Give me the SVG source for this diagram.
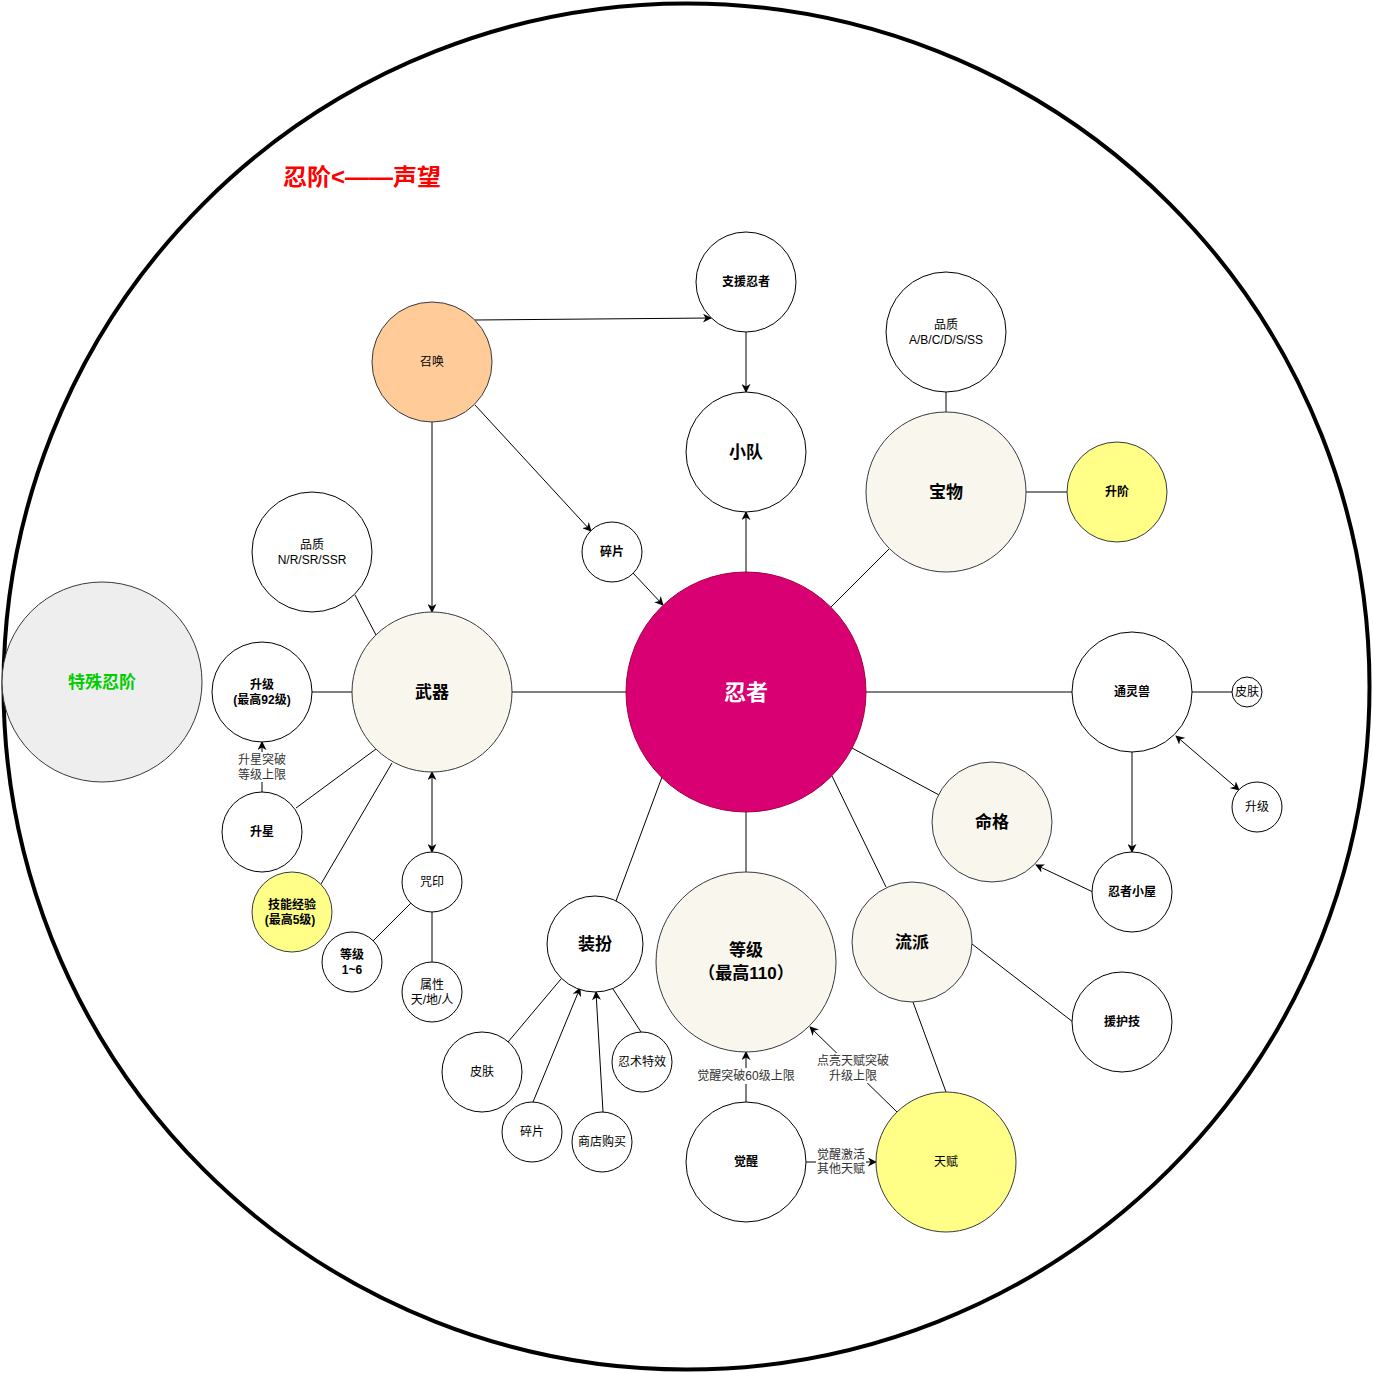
<svg xmlns="http://www.w3.org/2000/svg" width="1373" height="1373" viewBox="0 0 1373 1373">
<style>
text{font-family:"Liberation Sans","Noto Sans CJK SC",sans-serif;text-anchor:middle;dominant-baseline:central;fill:#000}
.n{stroke:#000;stroke-width:1;fill:#fff}
.c{fill:#f9f7ed;stroke:#36393d}
.y{fill:#ffff88;stroke:#36393d}
.s{font-size:12px}
.b{font-weight:bold}
.l{font-size:17px;font-weight:bold}
.e{stroke:#000;stroke-width:1;fill:none}
.lb{font-size:12px;fill:#333}
</style>
<defs>
<marker id="a" viewBox="0 0 10 10" refX="9" refY="5" markerWidth="9" markerHeight="9" markerUnits="userSpaceOnUse" orient="auto-start-reverse">
<path d="M0,0 L10,5 L0,10 L3,5 Z" fill="#000"/>
</marker>
</defs>
<circle cx="686.5" cy="686.5" r="683" fill="#fff" stroke="#000" stroke-width="4"/>
<text x="362" y="177" textLength="158" lengthAdjust="spacingAndGlyphs" style="font-size:23px;font-weight:bold;fill:#ff0000">忍阶&lt;——声望</text>
<g id="connectors">
<line class="e" x1="512" y1="692" x2="626" y2="692"/>
<line class="e" x1="866" y1="692" x2="1072" y2="692"/>
<line class="e" x1="1192" y1="692" x2="1232" y2="692"/>
<line class="e" x1="1176" y1="736" x2="1239" y2="790" marker-start="url(#a)" marker-end="url(#a)"/>
<line class="e" x1="1132" y1="752" x2="1132" y2="852" marker-end="url(#a)"/>
<line class="e" x1="1093" y1="892" x2="1036" y2="865" marker-end="url(#a)"/>
<line class="e" x1="852" y1="748" x2="939" y2="795"/>
<line class="e" x1="832" y1="776" x2="886" y2="887"/>
<line class="e" x1="972" y1="944" x2="1073" y2="1022"/>
<line class="e" x1="913" y1="1002" x2="946" y2="1092"/>
<line class="e" x1="897" y1="1112" x2="810" y2="1027" marker-end="url(#a)"/>
<line class="e" x1="746" y1="1102" x2="746" y2="1052" marker-end="url(#a)"/>
<line class="e" x1="806" y1="1162" x2="876" y2="1162" marker-end="url(#a)"/>
<line class="e" x1="746" y1="812" x2="746" y2="872"/>
<line class="e" x1="662" y1="777" x2="616" y2="901"/>
<line class="e" x1="561" y1="979" x2="508" y2="1042"/>
<line class="e" x1="533" y1="1102" x2="580" y2="988" marker-end="url(#a)"/>
<line class="e" x1="603" y1="1112" x2="596" y2="992" marker-end="url(#a)"/>
<line class="e" x1="613" y1="989" x2="641" y2="1032"/>
<line class="e" x1="746" y1="572" x2="746" y2="512" marker-end="url(#a)"/>
<line class="e" x1="746" y1="332" x2="746" y2="392" marker-end="url(#a)"/>
<line class="e" x1="475" y1="320" x2="711" y2="318" marker-end="url(#a)"/>
<line class="e" x1="475" y1="405" x2="591" y2="531" marker-end="url(#a)"/>
<line class="e" x1="633" y1="573" x2="663" y2="605" marker-end="url(#a)"/>
<line class="e" x1="432" y1="422" x2="432" y2="612" marker-end="url(#a)"/>
<line class="e" x1="946" y1="392" x2="946" y2="412"/>
<line class="e" x1="1026" y1="492" x2="1067" y2="492"/>
<line class="e" x1="889" y1="549" x2="831" y2="607"/>
<line class="e" x1="355" y1="595" x2="376" y2="635"/>
<line class="e" x1="352" y1="692" x2="312" y2="692"/>
<line class="e" x1="262" y1="792" x2="262" y2="742" marker-end="url(#a)"/>
<line class="e" x1="376" y1="749" x2="296" y2="808"/>
<line class="e" x1="392" y1="763" x2="321" y2="884"/>
<line class="e" x1="432" y1="772" x2="432" y2="852" marker-start="url(#a)" marker-end="url(#a)"/>
<line class="e" x1="411" y1="903" x2="373" y2="941"/>
<line class="e" x1="432" y1="912" x2="432" y2="962"/>
<rect x="236" y="752" width="52" height="30" fill="#fff"/>
<text class="lb" x="262" y="760">升星突破</text>
<text class="lb" x="262" y="775">等级上限</text>
<rect x="696" y="1068" width="100" height="16" fill="#fff"/>
<text class="lb" x="746" y="1076">觉醒突破60级上限</text>
<rect x="816" y="1053" width="74" height="30" fill="#fff"/>
<text class="lb" x="853" y="1061">点亮天赋突破</text>
<text class="lb" x="853" y="1076">升级上限</text>
<rect x="816" y="1148" width="50" height="28" fill="#fff"/>
<text class="lb" x="841" y="1155">觉醒激活</text>
<text class="lb" x="841" y="1169">其他天赋</text>
</g>
<g id="n-special"><circle cx="102" cy="682" r="100" fill="#eeeeee" stroke="#36393d"/><text class="l" x="102" y="682" style="fill:#00cc00">特殊忍阶</text></g>
<g id="n-ninja"><circle cx="746" cy="692" r="120" fill="#d80073" stroke="#a50040"/><text x="746" y="692" style="font-size:22px;font-weight:bold;fill:#fff">忍者</text></g>
<g id="n-team"><circle class="n" cx="746" cy="452" r="60"/><text class="l" x="746" y="452">小队</text></g>
<g id="n-support"><circle class="n" cx="746" cy="282" r="50"/><text class="s b" x="746" y="282">支援忍者</text></g>
<g id="n-summon"><circle cx="432" cy="362" r="60" fill="#ffcc99" stroke="#36393d"/><text class="s" x="432" y="362">召唤</text></g>
<g id="n-frag1"><circle class="n" cx="612" cy="552" r="30"/><text class="s b" x="612" y="552">碎片</text></g>
<g id="n-treasure"><circle class="c" cx="946" cy="492" r="80"/><text class="l" x="946" y="492">宝物</text></g>
<g id="n-quality2"><circle class="n" cx="946" cy="332" r="60"/><text class="s" x="946" y="325">品质</text><text class="s" x="946" y="340">A/B/C/D/S/SS</text></g>
<g id="n-advance"><circle class="y" cx="1117" cy="492" r="50"/><text class="s b" x="1117" y="492">升阶</text></g>
<g id="n-beast"><circle class="n" cx="1132" cy="692" r="60"/><text class="s b" x="1132" y="692">通灵兽</text></g>
<g id="n-skin2"><circle class="n" cx="1247" cy="692" r="15"/><text class="s" x="1247" y="692">皮肤</text></g>
<g id="n-up2"><circle class="n" cx="1257" cy="807" r="25"/><text class="s" x="1257" y="807">升级</text></g>
<g id="n-house"><circle class="n" cx="1132" cy="892" r="40"/><text class="s b" x="1132" y="892">忍者小屋</text></g>
<g id="n-fate"><circle class="c" cx="992" cy="822" r="60"/><text class="l" x="992" y="822">命格</text></g>
<g id="n-school"><circle class="c" cx="912" cy="942" r="60"/><text class="l" x="912" y="942">流派</text></g>
<g id="n-assist"><circle class="n" cx="1122" cy="1022" r="50"/><text class="s b" x="1122" y="1022">援护技</text></g>
<g id="n-talent"><circle class="y" cx="946" cy="1162" r="70"/><text class="s" x="946" y="1162">天赋</text></g>
<g id="n-awaken"><circle class="n" cx="746" cy="1162" r="60"/><text class="s b" x="746" y="1162">觉醒</text></g>
<g id="n-level"><circle class="c" cx="746" cy="962" r="90"/><text class="l" x="746" y="950">等级</text><text class="l" x="746" y="973">（最高110）</text></g>
<g id="n-dress"><circle class="n" cx="595" cy="944" r="48"/><text class="l" x="595" y="944">装扮</text></g>
<g id="n-skin1"><circle class="n" cx="482" cy="1072" r="40"/><text class="s" x="482" y="1072">皮肤</text></g>
<g id="n-frag2"><circle class="n" cx="532" cy="1132" r="30"/><text class="s" x="532" y="1132">碎片</text></g>
<g id="n-shop"><circle class="n" cx="602" cy="1142" r="30"/><text class="s" x="602" y="1142">商店购买</text></g>
<g id="n-effect"><circle class="n" cx="642" cy="1062" r="30"/><text class="s" x="642" y="1062">忍术特效</text></g>
<g id="n-weapon"><circle class="c" cx="432" cy="692" r="80"/><text class="l" x="432" y="692">武器</text></g>
<g id="n-quality1"><circle class="n" cx="312" cy="552" r="60"/><text class="s" x="312" y="545">品质</text><text class="s" x="312" y="560">N/R/SR/SSR</text></g>
<g id="n-up1"><circle class="n" cx="262" cy="692" r="50"/><text class="s b" x="262" y="685">升级</text><text class="s b" x="262" y="700">(最高92级)</text></g>
<g id="n-star"><circle class="n" cx="262" cy="832" r="40"/><text class="s b" x="262" y="832">升星</text></g>
<g id="n-skillexp"><circle class="y" cx="292" cy="912" r="40"/><text class="s b" x="292" y="905">技能经验</text><text class="s b" x="290" y="920">(最高5级)</text></g>
<g id="n-seal"><circle class="n" cx="432" cy="882" r="30"/><text class="s" x="432" y="882">咒印</text></g>
<g id="n-sealv"><circle class="n" cx="352" cy="962" r="30"/><text class="s b" x="352" y="955">等级</text><text class="s b" x="352" y="970">1~6</text></g>
<g id="n-attr"><circle class="n" cx="432" cy="992" r="30"/><text class="s" x="432" y="985">属性</text><text class="s" x="432" y="1000">天/地/人</text></g>
</svg>
